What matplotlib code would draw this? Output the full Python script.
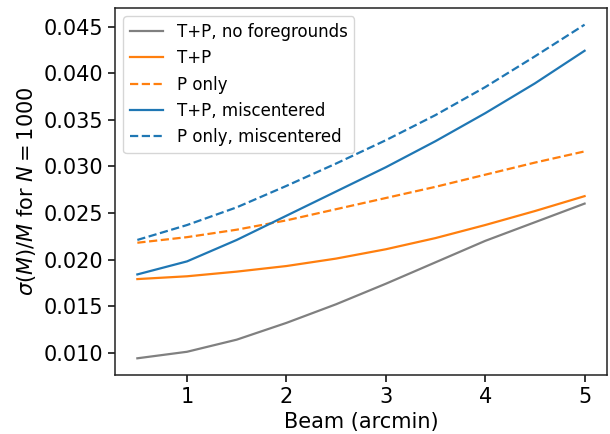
import matplotlib
matplotlib.use("Agg")
import matplotlib.pyplot as plt

# Beam size in arcmin
beam = [0.5, 1.0, 1.5, 2.0, 2.5, 3.0, 3.5, 4.0, 4.5, 5.0]

# sigma(M)/M for N = 1000
tp_nofg = [0.0094, 0.0101, 0.0114, 0.0132, 0.0152, 0.0174, 0.0197, 0.0220, 0.0240, 0.0260]
tp = [0.0179, 0.0182, 0.0187, 0.0193, 0.0201, 0.0211, 0.0223, 0.0237, 0.0252, 0.0268]
p_only = [0.0218, 0.0224, 0.0232, 0.0242, 0.0254, 0.0266, 0.0278, 0.0291, 0.0304, 0.0316]
tp_mis = [0.0184, 0.0198, 0.0221, 0.0247, 0.0273, 0.0299, 0.0327, 0.0357, 0.0389, 0.0424]
p_only_mis = [0.0221, 0.0237, 0.0256, 0.0279, 0.0303, 0.0328, 0.0355, 0.0385, 0.0418, 0.0452]

fig, ax = plt.subplots(figsize=(6.1, 4.34), dpi=100)
fig.subplots_adjust(left=0.1885, right=0.995, top=0.9816, bottom=0.136)

ax.plot(beam, tp_nofg, color="gray", lw=1.6, label="T+P, no foregrounds")
ax.plot(beam, tp, color="#ff7f0e", lw=1.6, label="T+P")
ax.plot(beam, p_only, color="#ff7f0e", lw=1.6, ls="--", label="P only")
ax.plot(beam, tp_mis, color="#1f77b4", lw=1.6, label="T+P, miscentered")
ax.plot(beam, p_only_mis, color="#1f77b4", lw=1.6, ls="--", label="P only, miscentered")

ax.set_xlabel("Beam (arcmin)", fontsize=15)
ax.set_ylabel(r"$\sigma(M)/M$ for $N = 1000$", fontsize=15)
ax.tick_params(labelsize=15, length=5, width=1.1)
for s in ax.spines.values():
    s.set_linewidth(1.1)
    s.set_color("#222222")

ax.legend(loc="upper left", fontsize=12)

fig.savefig("out.png", dpi=100)
